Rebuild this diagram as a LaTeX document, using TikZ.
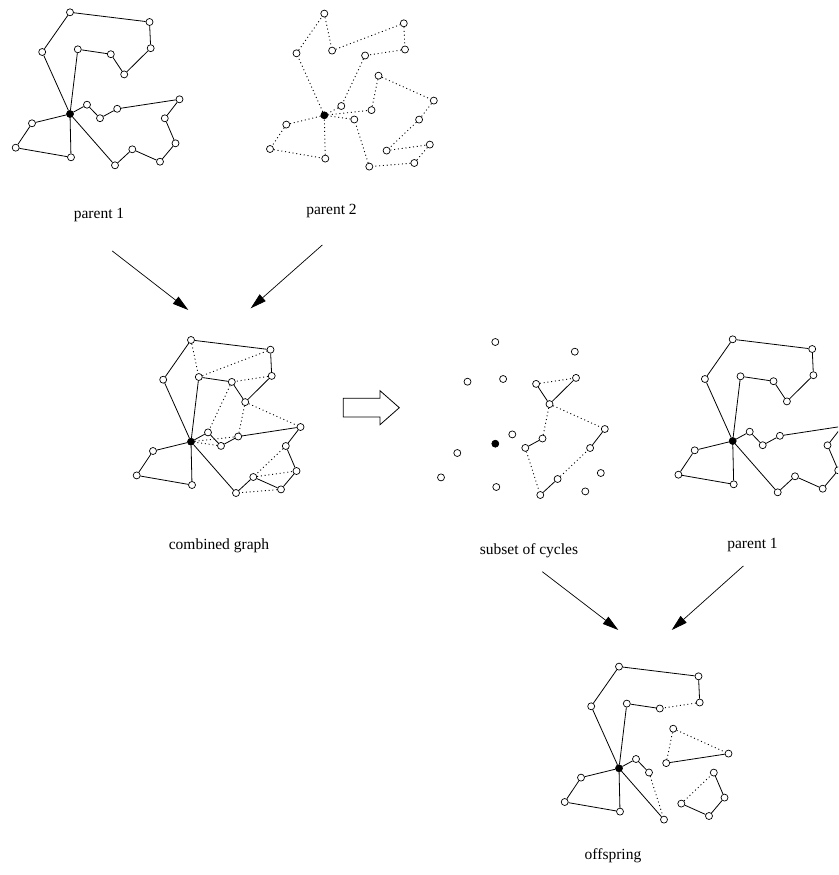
\documentclass[tikz,border=0pt]{standalone}
\usepackage{fontspec}
\setmainfont{Liberation Serif}
\usetikzlibrary{arrows.meta}
\newcommand\vrpnodes[3]{%
  \begin{scope}[shift={(#2,#3)}]
    \node[dep] (#1D) at (0,0) {};
    \foreach \n/\a/\b in {A1/0/-101.7, A2/79.5/-92, A3/80.7/-65.8, A4/54.2/-39.6,
      A5/40.8/-59.8, A6/7.8/-64.7, A7/-27.8/-62, B1/17/-9.3, B2/30/4.2,
      B3/47.2/-5.2, B4/109.5/-14.7, B5/94.8/4.3, B6/105.5/29.3, B7/90/47.7,
      B8/62.3/35.3, B9/45/51.3, C1/-38/9.3, C2/-54.3/33.7, C3/1/43.3}
      {\node[cust] (#1\n) at (\a,\b) {};}
  \end{scope}}
\newcommand\vrpedges[3]{%
  \foreach \u/\v in {#3} {\draw[#2] (#1\u) -- (#1\v);}}
\begin{document}
\begin{tikzpicture}[x=1pt,y=-1pt,
  cust/.style={circle,draw,fill=white,inner sep=0pt,minimum size=7pt,line width=0.7pt},
  dep/.style={circle,draw,fill=black,inner sep=0pt,minimum size=7pt,line width=0.7pt},
  solidedge/.style={line width=0.8pt},
  dotedge/.style={line width=0.9pt,dash pattern=on 1pt off 2.8pt},
  flow/.style={line width=0.7pt,-{Triangle[length=16pt,width=9pt]}},
  lbl/.style={font=\fontsize{15.5pt}{18pt}\selectfont,inner sep=0pt}]
\useasboundingbox (0,0) rectangle (838,875);
\clip (0,0) rectangle (838,875);

% node sets
\vrpnodes{pa}{70}{114}
\vrpnodes{pb}{324.3}{115.3}
\vrpnodes{cg}{191}{441.7}
\vrpnodes{sc}{495.3}{443.7}
\vrpnodes{pr}{732.7}{441}
\vrpnodes{of}{619}{768.3}

% parent 1
\vrpedges{pa}{solidedge}{D/A7,A7/A1,A1/A2,A2/A3,A3/A4,A4/A5,A5/A6,A6/D,
  D/B1,B1/B2,B2/B3,B3/B4,B4/B5,B5/B6,B6/B7,B7/B8,B8/B9,B9/D,D/C1,C1/C2,C2/C3,C3/D}
% parent 2
\vrpedges{pb}{dotedge}{D/A7,A7/A1,A1/A6,A6/A2,A2/A3,A3/A5,A5/B1,B1/D,
  D/C1,C1/C2,C2/C3,C3/D,D/B3,B3/A4,A4/B4,B4/B5,B5/B8,B8/B6,B6/B7,B7/B9,B9/B2,B2/D}
% combined graph
\vrpedges{cg}{solidedge}{D/A7,A7/A1,A1/A2,A2/A3,A3/A4,A4/A5,A5/A6,A6/D,
  D/B1,B1/B2,B2/B3,B3/B4,B4/B5,B5/B6,B6/B7,B7/B8,B8/B9,B9/D,D/C1,C1/C2,C2/C3,C3/D}
\vrpedges{cg}{dotedge}{A1/A6,A6/A2,A3/A5,A5/B1,D/B3,B3/A4,A4/B4,B5/B8,B8/B6,B7/B9,B2/D}
% subset of cycles
\vrpedges{sc}{solidedge}{A3/A4,A4/A5,B3/B2,B9/B8,B5/B4}
\vrpedges{sc}{dotedge}{A5/A3,A4/B4,A4/B3,B2/B9,B8/B5}
% parent 1 (right)
\vrpedges{pr}{solidedge}{D/A7,A7/A1,A1/A2,A2/A3,A3/A4,A4/A5,A5/A6,A6/D,
  D/B1,B1/B2,B2/B3,B3/B4,B4/B5,B5/B6,B6/B7,B7/B8,B8/B9,B9/D,D/C1,C1/C2,C2/C3,C3/D}
% offspring
\vrpedges{of}{solidedge}{D/A7,A7/A1,A1/A2,A2/A3,A5/A6,A6/D,B3/B4,
  D/B1,B1/B2,B9/D,B5/B6,B6/B7,B7/B8,D/C1,C1/C2,C2/C3,C3/D}
\vrpedges{of}{dotedge}{A3/A5,A4/B4,A4/B3,B2/B9,B8/B5}

% labels
\node[lbl] (lp1) at (99,215) {parent 1};
\node[lbl] (lp2) at (331.5,211) {parent 2};
\node[lbl] (lcg) at (219,546) {combined graph};
\node[lbl] (lsc) at (529,551) {subset of cycles};
\node[lbl] (lpr) at (752.5,545) {parent 1};
\node[lbl] (lof) at (613,856) {offspring};

% arrows
\coordinate (a1s) at (112.3,251); \coordinate (a1e) at (188.3,310);
\coordinate (a2s) at (322.3,245); \coordinate (a2e) at (250.7,308.3);
\coordinate (a3s) at (542.3,571.7); \coordinate (a3e) at (618.3,630);
\coordinate (a4s) at (743.3,566); \coordinate (a4e) at (671.7,630);
\draw[flow] (a1s) -- (a1e);
\draw[flow] (a2s) -- (a2e);
\draw[flow] (a3s) -- (a3e);
\draw[flow] (a4s) -- (a4e);

% block arrow
\draw[line width=0.8pt] (343.3,398.3) -- (380,398.3) -- (380,390.7) -- (399.3,407.7)
  -- (380,424.7) -- (380,417) -- (343.3,417) -- cycle;
\end{tikzpicture}
\end{document}
